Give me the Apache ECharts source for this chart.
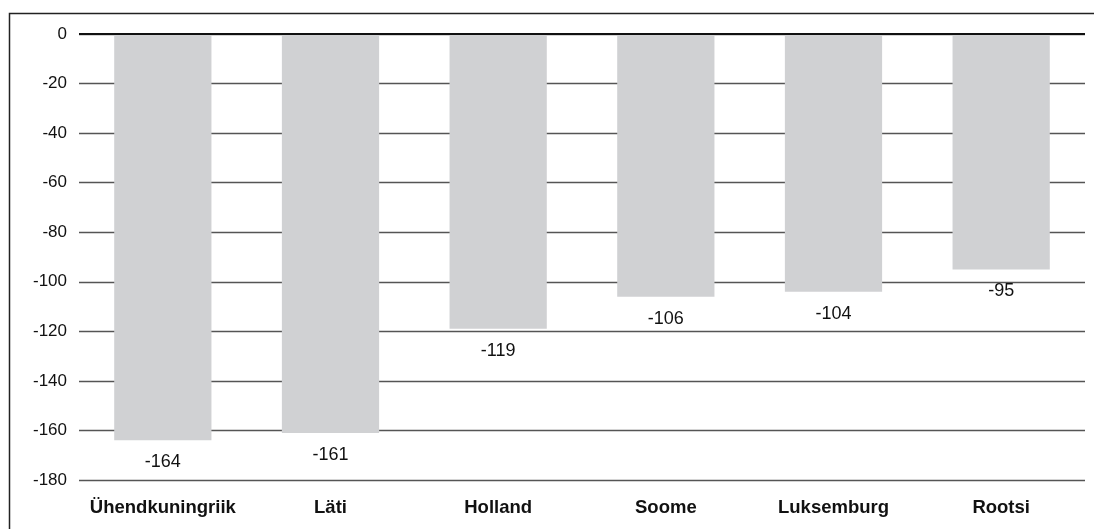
<!DOCTYPE html>
<html>
<head>
<meta charset="utf-8">
<script src="https://cdn.jsdelivr.net/npm/echarts@6/dist/echarts.min.js"></script>
<style>
html,body{margin:0;padding:0;background:#fff;}
#chart{width:1094px;height:529px;}
</style>
</head>
<body>
<div id="chart"></div>
<script>
const categories = ['Ühendkuningriik', 'Läti', 'Holland', 'Soome', 'Luksemburg', 'Rootsi'];
const values = [-164, -161, -119, -106, -104, -95];
const yTicks = { min: -180, max: 0, interval: 20 };

const chart = echarts.init(document.getElementById('chart'));
chart.setOption({
  animation: false,
  backgroundColor: '#fff',
  graphic: [{
    type: 'rect',
    left: 7, top: 11,
    shape: { width: 1300, height: 700 },
    style: { fill: 'none', stroke: '#222', lineWidth: 1.5 },
    z: -1
  }],
  grid: { left: 79, right: 9, top: 34, bottom: 49, containLabel: false },
  xAxis: {
    type: 'category',
    data: categories,
    position: 'bottom',
    axisLine: { show: false, onZero: false },
    axisTick: { show: false },
    axisLabel: {
      interval: 0,
      fontFamily: 'Liberation Sans, Arial, sans-serif',
      fontWeight: 'bold', fontSize: 18.5, color: '#111', margin: 18
    }
  },
  yAxis: {
    type: 'value',
    min: yTicks.min, max: yTicks.max, interval: yTicks.interval,
    axisLine: { show: false },
    axisTick: { show: false },
    axisLabel: {
      fontFamily: 'Liberation Sans, Arial, sans-serif',
      fontSize: 17, color: '#111', margin: 12
    },
    splitLine: { lineStyle: { color: '#555', width: 1.4 } }
  },
  series: [{
    type: 'bar',
    data: values,
    barWidth: '58%',
    itemStyle: { color: '#d0d1d3' },
    label: {
      show: true, position: 'bottom', distance: 13,
      fontFamily: 'Liberation Sans, Arial, sans-serif',
      fontSize: 18, color: '#111'
    },
    markLine: {
      silent: true, symbol: 'none',
      label: { show: false },
      lineStyle: { color: '#111', width: 2, type: 'solid' },
      data: [{ yAxis: 0 }]
    }
  }]
});
</script>
</body>
</html>
